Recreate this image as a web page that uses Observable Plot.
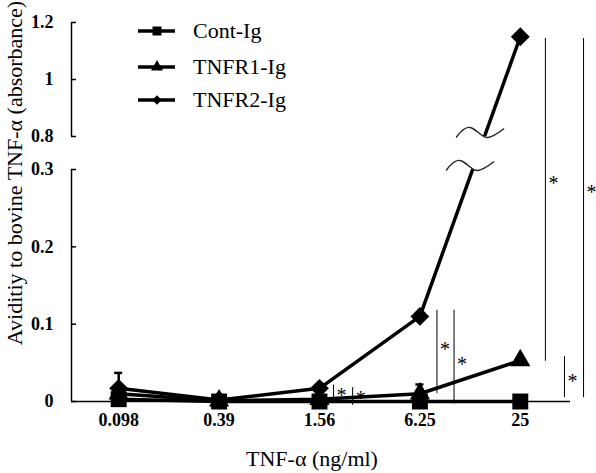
<!DOCTYPE html>
<html><head><meta charset="utf-8">
<script src="https://cdn.jsdelivr.net/npm/d3@7"></script>
<script src="https://cdn.jsdelivr.net/npm/@observablehq/plot@0.6"></script>
<style>
body{margin:0;background:#fff}
#chart{position:relative;width:596px;height:473px}
#chart svg{position:absolute;left:0;top:0}
</style></head><body><div id="chart"></div>
<script>
const categories = ["0.098","0.39","1.56","6.25","25"];
const seriesNames = ["Cont-Ig","TNFR1-Ig","TNFR2-Ig"];
const contIg  = [0.003, 0, 0, 0, 0];
const tnfr1Ig = [0.01, 0.001, 0.003, 0.01, 0.053];
const tnfr2Ig = [0.017, 0.002, 0.017, 0.11, 1.15];
const tnfr1Err = [0, 0, 0, 0.012, 0];
const tnfr2Err = [0.02, 0, 0, 0, 0];
const yTicks = [0, 0.1, 0.2, 0.3, 0.8, 1, 1.2];
const yBreak = [0.3, 0.8];
const yTitle = "Aviditiy to bovine TNF-α (absorbance)";
const xTitle = "TNF-α (ng/ml)";
// significance bars (x in category-index units)
const sigX    = [2.14, 2.33, 3.17, 3.34, 4.25, 4.44, 4.63];
const sigLow  = [0, -0.005, 0.01, -0.003, 0.052, 0.005, 0.005];
const sigHigh = [0.021, 0.018, 0.118, 0.118, 1.144, 0.058, 1.144];
const sigStar = [0.014, 0.01, 0.074, 0.054, 0.288, 0.032, 0.276];

const FONT = "'Liberation Serif','Times New Roman',serif";
const allVals = [contIg, tnfr1Ig, tnfr2Ig];
const allErr = [null, tnfr1Err, tnfr2Err];
const symbols = ["square", "triangle", "diamond2"];
const radii = [9, 7.5, 8.5];
const rows = [];
allVals.forEach((vals, s) => vals.forEach((v, i) => rows.push({series: seriesNames[s], s, i, v})));
const errRows = [];
allErr.forEach((errs, s) => errs && errs.forEach((e, i) => { if (e > 0) errRows.push({i, v: allVals[s][i], e}); }));
const sigRows = sigX.map((x, k) => ({x, lo: sigLow[k], hi: sigHigh[k], star: sigStar[k]}));
const xMin = -0.47, xMax = 4.5;

const squiggle = "data:image/svg+xml," + encodeURIComponent(
  "<svg xmlns='http://www.w3.org/2000/svg' width='50' height='16' viewBox='0 0 50 16'><path d='M1,13 C6,6 10,2 15,3 C21,4 27,14 33,13 C39,12 45,7 49,4' fill='none' stroke='#222' stroke-width='1.4'/></svg>");

const plot = Plot.plot({
  width: 596, height: 473,
  marginLeft: 71, marginRight: 26, marginTop: 22, marginBottom: 72,
  style: {fontFamily: FONT, fontSize: "18px", color: "black", background: "white"},
  x: {domain: [xMin, xMax], axis: null},
  y: {type: "linear", domain: [0, 0.3, 0.8, 1.2], range: [401, 169, 136, 22], axis: null},
  marks: [
    Plot.ruleY([0], {x1: xMin, x2: xMax, stroke: "black", strokeWidth: 1.5}),
    Plot.ruleX([[0, 0.3], [0.8, 1.2]], {x: xMin, y1: d => d[0], y2: d => d[1], stroke: "black", strokeWidth: 1.5}),
    Plot.axisY(yTicks, {anchor: "left", label: null, tickSize: -5, tickPadding: 23, strokeWidth: 1.5,
      tickFormat: d => String(d), fontWeight: "bold", fontSize: 18, fill: "black"}),
    Plot.axisX(d3.range(categories.length), {anchor: "bottom", label: null, tickSize: 0, tickPadding: 12,
      tickFormat: i => categories[i], fontWeight: "bold", fontSize: 18, fill: "black"}),
    Plot.line(rows, {x: "i", y: "v", z: "series", stroke: "black", strokeWidth: 3.5}),
    Plot.rect([yBreak], {x1: 3.42, x2: 3.9, y1: d => d[0], y2: d => d[1], fill: "white"}),
    Plot.image(yBreak, {x: d => d === 0.3 ? 3.5 : 3.6, y: d => d, width: 50, height: 16, src: squiggle, dy: -4}),
    Plot.ruleX(errRows, {x: "i", y1: "v", y2: d => d.v + d.e, stroke: "black", strokeWidth: 2.5}),
    Plot.ruleY(errRows, {y: d => d.v + d.e, x1: d => d.i - 0.04, x2: d => d.i + 0.04, stroke: "black", strokeWidth: 2.5}),
    ...seriesNames.map((name, s) => Plot.dot(rows.filter(d => d.s === s), {x: "i", y: "v", symbol: () => symbols[s], r: radii[s], fill: "black", stroke: "none"})),
    Plot.ruleX(sigRows, {x: "x", y1: "lo", y2: "hi", stroke: "black", strokeWidth: 1}),
    Plot.text(sigRows, {x: "x", y: "star", text: () => "*", textAnchor: "start", dx: 3, dy: 5, fontSize: 20, fill: "black"}),
    Plot.text([yTitle], {text: d => d, frameAnchor: "left", textAnchor: "middle", lineAnchor: "middle", rotate: -90, dx: -57, dy: -39, fontSize: 22, fill: "black"}),
    Plot.text([xTitle], {text: d => d, frameAnchor: "bottom", textAnchor: "middle", lineAnchor: "middle", dx: -9, dy: 57, fontSize: 22, fill: "black"})
  ]
});
document.getElementById("chart").appendChild(plot);

// legend overlay
const legY = [31, 67, 100];
const svg = d3.select("#chart").append("svg").attr("width", 596).attr("height", 473).style("pointer-events", "none");
const legSym = [d3.symbol(d3.symbolSquare, 81), d3.symbol(d3.symbolTriangle, 62), d3.symbol(d3.symbolDiamond2, 55)];
seriesNames.forEach((name, s) => {
  const g = svg.append("g").attr("transform", `translate(0,${legY[s]})`);
  g.append("line").attr("x1", 138).attr("x2", 175).attr("stroke", "black").attr("stroke-width", 3.5);
  g.append("path").attr("d", legSym[s]()).attr("transform", "translate(157,0)").attr("fill", "black");
  g.append("text").attr("x", 193).attr("y", 0).attr("dy", "0.32em").attr("font-family", FONT).attr("font-size", 22).text(name);
});
</script></body></html>
